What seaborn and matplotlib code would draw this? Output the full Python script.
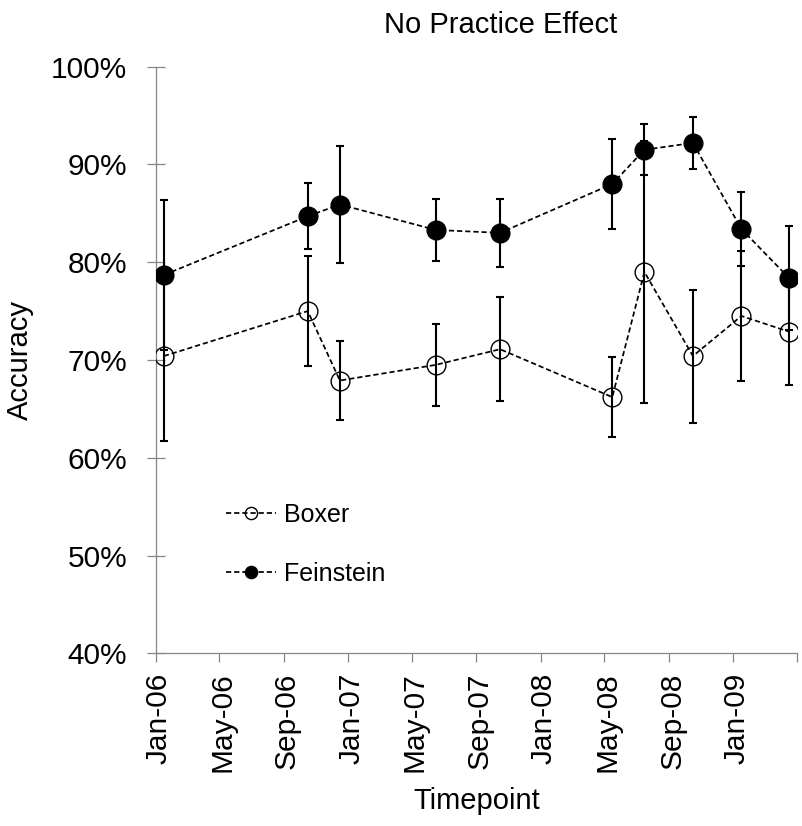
import pandas as pd
import matplotlib.pyplot as plt
from matplotlib.ticker import PercentFormatter
from matplotlib.transforms import ScaledTranslation
import seaborn as sns

# values (accuracy in %, error bar half-widths in %)
dates = ['2006-01-16', '2006-10-16', '2006-12-16', '2007-06-16', '2007-10-16',
         '2008-05-16', '2008-07-16', '2008-10-16', '2009-01-16', '2009-04-16']
boxer = [70.4, 75.0, 67.9, 69.5, 71.1, 66.2, 79.0, 70.4, 74.5, 72.9]
boxer_err = [8.7, 5.6, 4.0, 4.2, 5.3, 4.1, 13.4, 6.8, 6.6, 5.5]
feinstein = [78.7, 84.7, 85.9, 83.3, 83.0, 88.0, 91.5, 92.2, 83.4, 78.4]
feinstein_err = [7.7, 3.4, 6.0, 3.2, 3.5, 4.6, 2.6, 2.7, 3.8, 5.3]

tick_dates = ['2006-01-01', '2006-05-01', '2006-09-01', '2007-01-01', '2007-05-01',
              '2007-09-01', '2008-01-01', '2008-05-01', '2008-09-01', '2009-01-01',
              '2009-05-01']
tick_labels = ['Jan-06', 'May-06', 'Sep-06', 'Jan-07', 'May-07', 'Sep-07',
               'Jan-08', 'May-08', 'Sep-08', 'Jan-09', '']

df = pd.DataFrame({'date': pd.to_datetime(dates),
                   'Boxer': boxer, 'Feinstein': feinstein})

sns.set_style('ticks')
plt.rcParams['font.family'] = ['Liberation Sans', 'DejaVu Sans']
plt.rcParams['text.color'] = 'black'
plt.rcParams['axes.labelcolor'] = 'black'

grey = '#868686'
dash = (0, (3.0, 1.7))

fig = plt.figure(figsize=(8.02, 8.26), dpi=100)
ax = fig.add_axes([0.1945, 0.2091, 0.7989, 0.7102])

# error bars first, markers on top
ax.errorbar(df['date'], df['Boxer'], yerr=boxer_err, fmt='none', ecolor='black',
            elinewidth=1.5, capsize=3, capthick=1.5, zorder=2, label='_nolegend_')
ax.errorbar(df['date'], df['Feinstein'], yerr=feinstein_err, fmt='none', ecolor='black',
            elinewidth=1.5, capsize=3, capthick=1.5, zorder=2, label='_nolegend_')

sns.lineplot(data=df, x='date', y='Boxer', ax=ax, color='black', marker='o',
             markersize=13.5, markerfacecolor='none', markeredgecolor='black',
             markeredgewidth=1.0, linestyle=dash, linewidth=1.25,
             label='Boxer', zorder=3)
sns.lineplot(data=df, x='date', y='Feinstein', ax=ax, color='black', marker='o',
             markersize=13.5, markerfacecolor='black', markeredgecolor='black',
             markeredgewidth=1.0, linestyle=dash, linewidth=1.25,
             label='Feinstein', zorder=4)

ax.set_ylim(40, 100)
ax.set_yticks([40, 50, 60, 70, 80, 90, 100])
ax.yaxis.set_major_formatter(PercentFormatter(xmax=100, decimals=0))
ax.set_xlim(pd.Timestamp(tick_dates[0]), pd.Timestamp(tick_dates[-1]))
ax.set_xticks(pd.to_datetime(tick_dates))
ax.set_xticklabels(tick_labels, rotation=90)

sns.despine(ax=ax)
for side in ['left', 'bottom']:
    ax.spines[side].set_color(grey)
    ax.spines[side].set_linewidth(0.9)
ax.tick_params(axis='y', direction='inout', length=13.4, width=0.9, color=grey,
               labelcolor='black', labelsize=21.5, pad=14)
ax.tick_params(axis='x', direction='out', length=6.7, width=0.9, color=grey,
               labelcolor='black', labelsize=21.5, pad=7)

shift = ScaledTranslation(3 / 100, 0, fig.dpi_scale_trans)
for lbl in ax.get_xticklabels():
    lbl.set_transform(lbl.get_transform() + shift)

ax.set_xlabel('Timepoint', fontsize=21, labelpad=11)
ax.set_ylabel('Accuracy', fontsize=21, labelpad=12)
ax.set_title('No Practice Effect', fontsize=21, x=0.538, pad=24)

ax.legend(loc='center left', bbox_to_anchor=(0.110, 0.1855), frameon=False,
          fontsize=18, markerscale=0.65, handlelength=2.0, handletextpad=0.3,
          labelspacing=1.4, borderpad=0, borderaxespad=0)

fig.savefig('out.png', dpi=100)
